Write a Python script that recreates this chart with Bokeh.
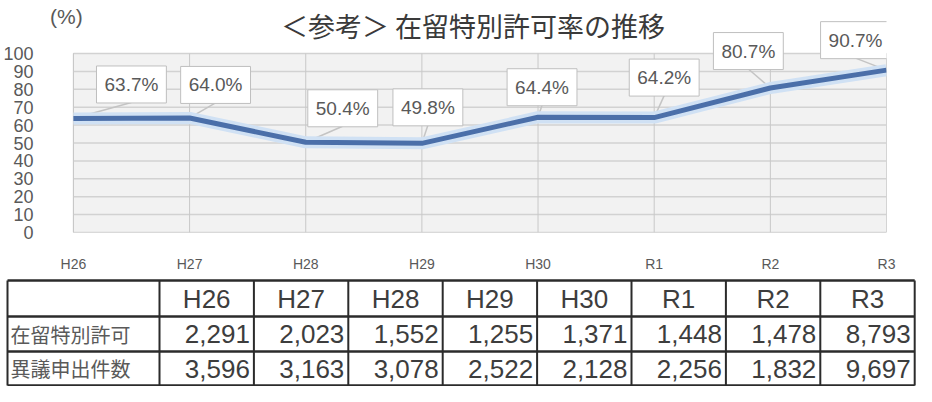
from bokeh.plotting import figure
from bokeh.models import ColumnDataSource, FixedTicker, Range1d
from bokeh.embed import file_html
from bokeh.resources import INLINE
from bokeh.core.properties import value

# ---------------- data ----------------
categories = ["H26", "H27", "H28", "H29", "H30", "R1", "R2", "R3"]
rate = [63.7, 64.0, 50.4, 49.8, 64.4, 64.2, 80.7, 90.7]
permits = [2291, 2023, 1552, 1255, 1371, 1448, 1478, 8793]
objections = [3596, 3163, 3078, 2522, 2128, 2256, 1832, 9697]
row_labels = ["在留特別許可", "異議申出件数"]
y_ticks = [0, 10, 20, 30, 40, 50, 60, 70, 80, 90, 100]
title_text = "＜参考＞ 在留特別許可率の推移"
unit_text = "(%)"

# ---------------- layout / style ----------------
W = 916
CH = 278                      # chart figure height
AREA_L, AREA_R = 71, 886      # plot-area pixel edges (figure coords)
AREA_T, AREA_B = 53, 232
FRAME_L = 41                  # frame left edge (y-axis sits here)
label_dx = [58, 26, 37, 6, 4, 10, -22, -31]
label_dy = [-34, -33, -34, -36, -30, -40, -37, -30]
BOX_HALF_H = 18
JP = "Noto Sans CJK JP"
LAT = "Liberation Sans"

n = len(categories)
idx = list(range(n))
ymax = max(y_ticks)
px_per_cat = (AREA_R - AREA_L) / (n - 1)
px_per_unit = (AREA_B - AREA_T) / ymax
x_start = -(AREA_L - FRAME_L) / px_per_cat
y_end = AREA_B / px_per_unit

p = figure(width=W, height=CH,
           x_range=Range1d(x_start, n - 1), y_range=Range1d(0, y_end),
           output_backend="svg", toolbar_location=None,
           min_border_left=FRAME_L, min_border_right=W - AREA_R,
           min_border_top=0, min_border_bottom=CH - AREA_B)
p.background_fill_color = "white"
p.border_fill_color = "white"
p.outline_line_color = None
p.grid.visible = False

# plot area background + grid (limited to the plot area)
p.quad(left=[0], right=[n - 1], bottom=[0], top=[ymax],
       fill_color="#f2f2f2", line_color="#c4c4c4", line_width=1)
p.segment(x0=[0] * len(y_ticks), x1=[n - 1] * len(y_ticks), y0=y_ticks, y1=y_ticks,
          line_color="#d2d2d2", line_width=1.5)
p.segment(x0=idx, x1=idx, y0=[0] * n, y1=[ymax] * n,
          line_color="#c8c8c8", line_width=1)

p.xaxis.ticker = FixedTicker(ticks=idx)
p.xaxis.major_label_overrides = {i: c for i, c in zip(idx, categories)}
p.yaxis.ticker = FixedTicker(ticks=y_ticks)
for ax in (p.xaxis, p.yaxis):
    ax.axis_line_color = None
    ax.major_tick_line_color = None
    ax.minor_tick_line_color = None
    ax.major_tick_out = 0
    ax.major_label_text_color = "#595959"
    ax.major_label_text_font = LAT
p.xaxis.major_label_text_font_size = "14px"
p.xaxis.major_label_standoff = 23
p.yaxis.major_label_text_font_size = "18px"
p.yaxis.major_label_standoff = 10

# callout tails: from each point to the bottom of its label box
tail_x1 = [x + dx / px_per_cat for x, dx in zip(idx, label_dx)]
tail_y1 = [y - (dy + BOX_HALF_H) / px_per_unit for y, dy in zip(rate, label_dy)]
p.segment(x0=idx, y0=rate, x1=tail_x1, y1=tail_y1,
          line_color="#c4c4c4", line_width=1.5)

src = ColumnDataSource(dict(x=idx, y=rate,
                            lab=[f"{v:.1f}%" for v in rate],
                            dx=label_dx, dy=label_dy))
p.line("x", "y", source=src, line_width=12, line_color="#d0e1f4", line_join="round")
p.line("x", "y", source=src, line_width=5, line_color="#4b6fa9", line_join="round")
p.text("x", "y", "lab", source=src, x_offset="dx", y_offset="dy",
       text_align="center", text_baseline="middle",
       text_font=value(LAT), text_font_size="19px", text_color="#595959",
       background_fill_color="white", border_line_color="#bfbfbf",
       border_line_width=1, padding=8)

# title and unit text (inside the extended frame, above the plot area)
p.text(x=[(n - 1) / 2], y=[(AREA_B - 25) / px_per_unit], text=[title_text],
       x_offset=-7, text_align="center", text_baseline="middle",
       text_font=value(JP), text_font_size="27px", text_color="#3a3a3a")
p.text(x=[0], y=[(AREA_B - 16) / px_per_unit], text=[unit_text],
       x_offset=-7, text_align="center", text_baseline="middle",
       text_font=value(LAT), text_font_size="21px", text_color="#595959")

# ---------------- table ----------------
TH = 386 - CH
left = 7
label_w = 152
col_w = 94.4
row_edges = [2, 38, 73, 107]
col_edges = [left] + [left + label_w + k * col_w for k in range(n + 1)]
right = col_edges[-1]

t = figure(width=W, height=TH, x_range=Range1d(0, W), y_range=Range1d(TH, 0),
           output_backend="svg", toolbar_location=None,
           x_axis_type=None, y_axis_type=None, min_border=0)
t.outline_line_color = None
t.grid.visible = False
t.background_fill_color = "white"
t.border_fill_color = "white"

t.segment(x0=[left] * len(row_edges), x1=[right] * len(row_edges),
          y0=row_edges, y1=row_edges, line_color="#2b2b2b", line_width=2.5)
t.segment(x0=col_edges, x1=col_edges,
          y0=[row_edges[0]] * len(col_edges), y1=[row_edges[-1]] * len(col_edges),
          line_color="#2b2b2b", line_width=2)

centers = [(row_edges[i] + row_edges[i + 1]) / 2 for i in range(3)]
col_mid = [(col_edges[i + 1] + col_edges[i + 2]) / 2 for i in range(n)]
col_right = [col_edges[i + 2] - 4 for i in range(n)]

t.text(x=col_mid, y=[centers[0]] * n, text=categories,
       text_align="center", text_baseline="middle",
       text_font=value(LAT), text_font_size="26px", text_color="#3d3d3d")
for r, vals in enumerate([permits, objections]):
    t.text(x=col_right, y=[centers[r + 1]] * len(vals),
           text=[f"{v:,}" for v in vals],
           text_align="right", text_baseline="middle",
           text_font=value(LAT), text_font_size="26px", text_color="#3d3d3d")
t.text(x=[left + 3] * 2, y=centers[1:], text=row_labels,
       text_align="left", text_baseline="middle",
       text_font=value(JP), text_font_size="20px", text_color="#5a5a5a")

open("out.html", "w").write(file_html([p, t], INLINE))
